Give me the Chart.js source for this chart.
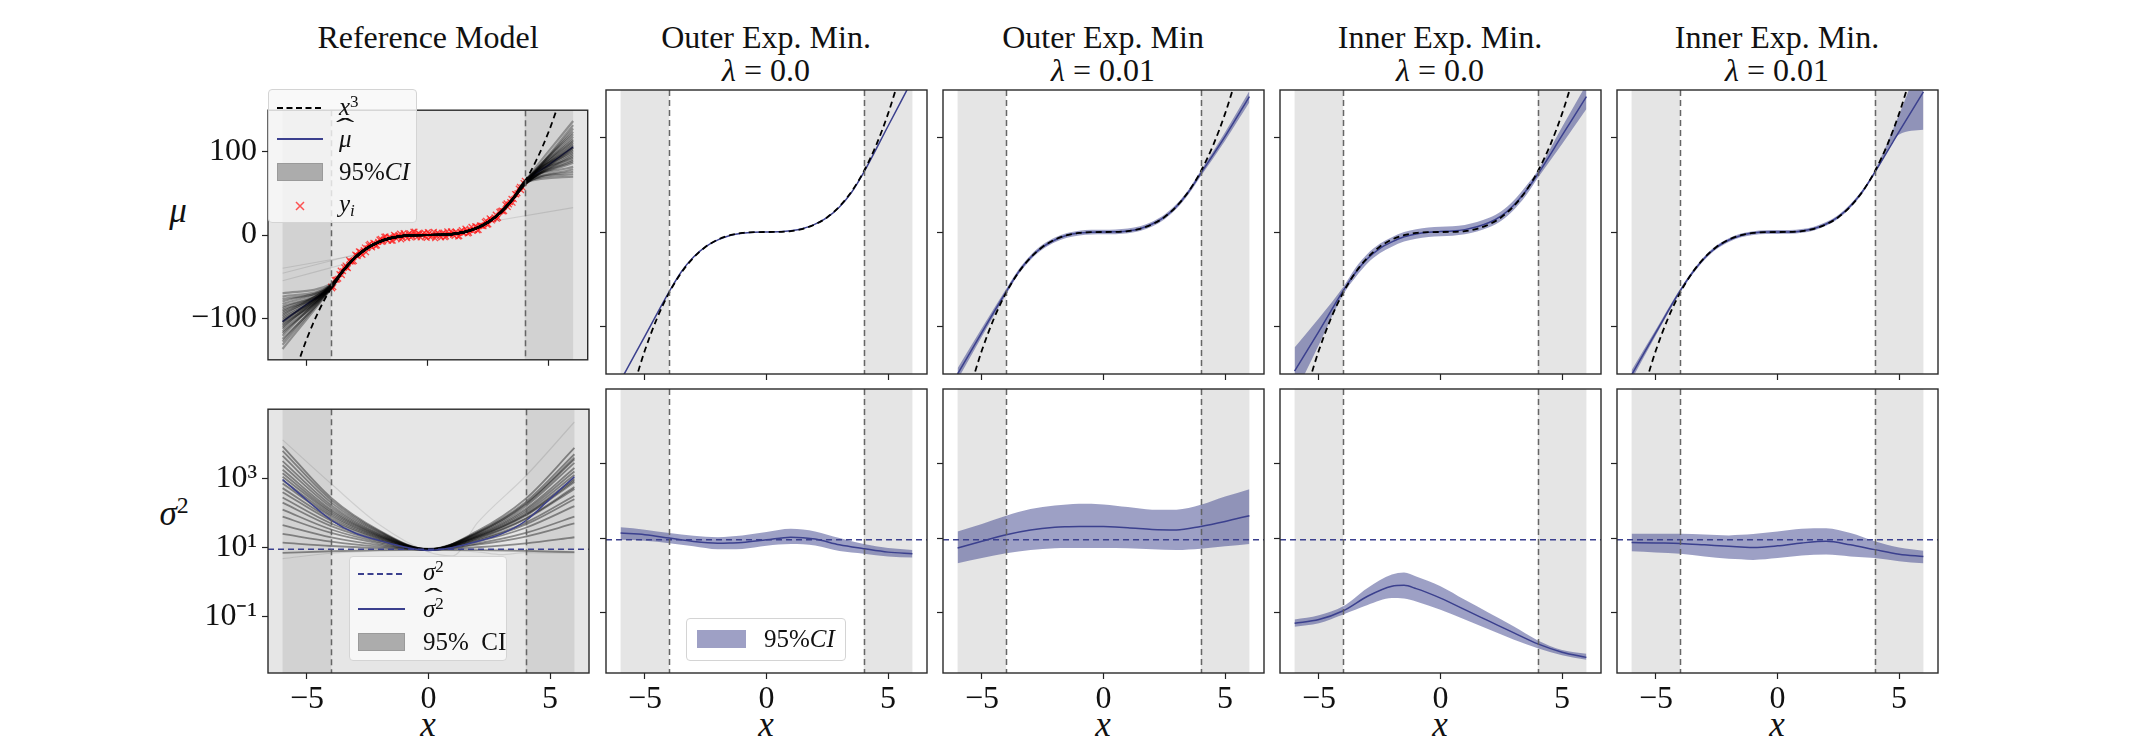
<!DOCTYPE html>
<html>
<head>
<meta charset="utf-8">
<title>mu / sigma panels</title>
<script src="https://cdn.jsdelivr.net/npm/chart.js@4.4.1/dist/chart.umd.min.js"></script>
<style>
  body { margin: 0; width: 2152px; height: 754px; background: #fff; position: relative; overflow: hidden;
         font-family: "Liberation Serif", "DejaVu Serif", serif; color: #111; }
  canvas { position: absolute; }
  .title { position: absolute; width: 400px; margin-left: -200px; text-align: center; font-size: 32px; line-height: 33px; }
  .lab { position: absolute; font-size: 35px; line-height: 34px; font-style: italic; width: 80px; margin-left: -40px; text-align: center; }
  .lg { position: absolute; border: 1px solid #d4d4d4; border-radius: 4px; box-sizing: border-box; }
  .lg svg, .lg span { position: absolute; }
  .lg span { font-size: 25px; line-height: 26px; white-space: nowrap; }
  sup { font-size: 0.68em; position: relative; top: -0.5em; vertical-align: baseline; }
  sub { font-size: 0.68em; position: relative; top: 0.25em; vertical-align: baseline; }
  .hat { position: relative; display: inline-block; }
  .hat::after { content: "\02C6"; position: absolute; left: 0; right: 0; top: -0.45em; text-align: center;
                font-style: normal; transform: scaleX(2.2); }
</style>
</head>
<body>

<!-- column titles -->
<div class="title" style="left:428px;top:21px">Reference Model</div>
<div class="title" style="left:766px;top:21px">Outer Exp. Min.<br><i>λ</i> = 0.0</div>
<div class="title" style="left:1103px;top:21px">Outer Exp. Min<br><i>λ</i> = 0.01</div>
<div class="title" style="left:1440px;top:21px">Inner Exp. Min.<br><i>λ</i> = 0.0</div>
<div class="title" style="left:1777px;top:21px">Inner Exp. Min.<br><i>λ</i> = 0.01</div>

<!-- axis labels -->
<div class="lab" style="left:178px;top:194px">μ</div>
<div class="lab" style="left:174px;top:497px">σ<sup style="font-style:normal">2</sup></div>
<div class="lab" style="left:428px;top:708px">x</div>
<div class="lab" style="left:766px;top:708px">x</div>
<div class="lab" style="left:1103px;top:708px">x</div>
<div class="lab" style="left:1440px;top:708px">x</div>
<div class="lab" style="left:1777px;top:708px">x</div>

<script>
// ---- axes ----
const xRange = [-6.6, 6.6];
const muRange = [-150, 150];
const sigmaRange = [0.0024, 100000];
const xTicks = [-5, 0, 5];
const xTickLabels = ['\u22125', '0', '5'];
const muTicks = [-100, 0, 100];
const muTickLabels = ['\u2212100', '0', '100'];
const sigmaTicks = [0.1, 10, 1000];
const sigmaTickLabels = ['10\u207B\u00B9', '10\u00B9', '10\u00B3'];
const spanRanges = [[-6, -4], [4, 6]];
const boundaryX = [-4, 4];
const sigmaTrue = 9;

// ---- true function x^3 ----
const cubeX = [-5.4, -5, -4.5, -4, -3.5, -3, -2.5, -2, -1.5, -1, -0.5, 0, 0.5, 1, 1.5, 2, 2.5, 3, 3.5, 4, 4.5, 5, 5.4];
const cubeY = [-157.5, -125, -91.1, -64, -42.9, -27, -15.6, -8, -3.4, -1, -0.1, 0, 0.1, 1, 3.4, 8, 15.6, 27, 42.9, 64, 91.1, 125, 157.5];

// ---- observations y_i ----
const obsXa = [-4.0, -3.9, -3.8, -3.7, -3.6, -3.5, -3.4, -3.3, -3.2, -3.1, -3.0, -2.9, -2.8, -2.7, -2.6, -2.5, -2.4, -2.3, -2.2, -2.1,
  -2.0, -1.9, -1.8, -1.7, -1.6, -1.5, -1.4, -1.3, -1.2, -1.1, -1.0, -0.9, -0.8, -0.7, -0.6, -0.5, -0.4, -0.3, -0.2, -0.1,
  0.0, 0.1, 0.2, 0.3, 0.4, 0.5, 0.6, 0.7, 0.8, 0.9, 1.0, 1.1, 1.2, 1.3, 1.4, 1.5, 1.6, 1.7, 1.8, 1.9,
  2.0, 2.1, 2.2, 2.3, 2.4, 2.5, 2.6, 2.7, 2.8, 2.9, 3.0, 3.1, 3.2, 3.3, 3.4, 3.5, 3.6, 3.7, 3.8, 3.9, 4.0];
const obsYa = [-61.9, -62.7, -53.7, -52.5, -42.7, -43.5, -36.6, -39.8, -32.0, -32.0, -23.5, -25.5, -20.1, -24.0, -15.0, -15.9, -10.7, -14.9, -10.2, -12.5,
  -5.6, -8.4, -2.0, -5.8, -2.7, -7.0, 0.2, -4.3, -1.0, -5.4, 2.3, -1.9, 1.1, -3.1, 4.0, -0.5, 2.1, -3.0, 1.0, -1.9,
  3.6, -2.5, 0.4, -4.0, 2.9, -1.2, 1.9, -2.8, 4.4, 0.5, 3.0, -1.3, 2.6, -1.5, 5.9, 2.4, 5.6, 2.5, 9.9, 6.2,
  10.3, 6.0, 11.3, 10.5, 17.2, 12.7, 18.7, 18.9, 24.5, 20.6, 28.8, 28.4, 36.5, 33.6, 39.5, 38.7, 49.3, 50.2, 57.9, 57.3, 65.3];
const obsXb = [-3.95, -3.85, -3.75, -3.65, -3.55, -3.45, -3.35, -3.25, -3.15, -3.05, -2.95, -2.85, -2.75, -2.65, -2.55, -2.45, -2.35, -2.25, -2.15, -2.05,
  -1.95, -1.85, -1.75, -1.65, -1.55, -1.45, -1.35, -1.25, -1.15, -1.05, -0.95, -0.85, -0.75, -0.65, -0.55, -0.45, -0.35, -0.25, -0.15, -0.05,
  0.05, 0.15, 0.25, 0.35, 0.45, 0.55, 0.65, 0.75, 0.85, 0.95, 1.05, 1.15, 1.25, 1.35, 1.45, 1.55, 1.65, 1.75, 1.85, 1.95,
  2.05, 2.15, 2.25, 2.35, 2.45, 2.55, 2.65, 2.75, 2.85, 2.95, 3.05, 3.15, 3.25, 3.35, 3.45, 3.55, 3.65, 3.75, 3.85, 3.95];
const obsYb = [-64.2, -54.0, -53.5, -46.9, -48.2, -38.9, -39.0, -30.2, -31.6, -31.3, -24.5, -19.6, -22.7, -18.0, -20.8, -12.0, -13.9, -9.5, -13.2, -8.3,
  -4.6, -7.9, -1.5, -6.9, -2.8, -6.9, -1.0, -2.6, 1.8, -3.3, -0.1, -4.0, 2.1, -1.4, 4.1, -2.8, 1.4, -0.2, 3.0, -3.6,
  2.0, -1.7, 3.8, -0.5, 1.4, -2.9, 2.9, -1.8, 0.7, 4.4, 0.2, 3.8, -1.9, 4.1, 2.4, 7.7, 1.7, 6.1, 4.8, 10.6,
  5.6, 11.7, 11.0, 15.9, 12.4, 20.0, 17.4, 21.3, 19.5, 27.8, 29.5, 28.7, 38.0, 36.7, 43.5, 42.9, 48.8, 55.8, 53.9, 62.6];

// ---- reference ensemble, mean ----
const muFanLeft = [-137, -132, -128, -125, -121, -118, -116, -113, -111, -109, -107, -105, -104, -102, -100, -98, -96, -94, -92, -90, -88, -86, -83, -80, -77, -74, -70];
const muFanLeftJoin = [-64, -63, -62, -65, -61, -63, -64, -62, -60, -63, -65, -62, -61, -64, -63, -62, -60, -63, -61, -64, -62, -63, -61, -60, -62, -61, -59];
const muFanRightJoin = [62, 64, 63, 61, 65, 62, 63, 64, 61, 62, 63, 65, 62, 64, 61, 63, 62, 60, 64, 63, 61, 62, 63, 60, 62, 61, 63];
const muFanRight = [118, 137, 99, 128, 93, 109, 124, 105, 132, 87, 113, 101, 107, 121, 95, 111, 76, 103, 115, 82, 97, 89, 70, 105, 91, 79, 73];
const muCoreX = [-3.5, -3, -2.5, -2, -1.5, -1, -0.5, 0, 0.5, 1, 1.5, 2, 2.5, 3, 3.5];
const muCoreY = [-42.9, -27, -15.6, -8, -3.4, -1, -0.1, 0, 0.1, 1, 3.4, 8, 15.6, 27, 42.9];
const muStray = [
  [[-6, -46], [-2.8, -22]],
  [[-6, -40], [-2.9, -24]],
  [[-6, -55], [-3.2, -33]],
  [[2.5, 15.6], [6, 33]]
];

const sigmaFanX = [-6, -4, -2, 0, 2, 4, 6];
const sigmaFan = [
  [8500, 275, 31, 8.9, 26.7, 188, 3980],
  [6300, 237, 29, 8.5, 30, 260, 7600],
  [4470, 200, 27.5, 9.1, 23.6, 133, 2000],
  [3160, 168, 25.7, 8.7, 27.9, 211, 5000],
  [2400, 146, 24.4, 9.3, 20, 84, 794],
  [1780, 126, 23, 8.8, 25, 158, 2820],
  [1410, 112, 22.2, 9.0, 21.8, 106, 1260],
  [1120, 100, 21.3, 8.6, 18.4, 67, 500],
  [890, 89, 20.4, 9.2, 26.2, 178, 3550],
  [710, 79, 19.6, 8.8, 17, 53, 316],
  [525, 68, 18.6, 9.0, 22.6, 119, 1580],
  [400, 60, 17.7, 8.7, 20.4, 89, 890],
  [282, 50, 16.6, 9.1, 15, 37.6, 158],
  [200, 42, 15.6, 8.9, 20.8, 94, 1000],
  [126, 33.5, 14.4, 8.8, 18.8, 71, 562],
  [79, 26.6, 13.2, 8.6, 12.2, 21, 50],
  [45, 20, 11.9, 8.9, 16.3, 47, 251],
  [25, 15, 10.7, 8.8, 10.3, 13.3, 20],
  [14, 11.2, 9.7, 8.9, 13.2, 26.6, 79],
  [7.1, 7.9, 8.5, 8.7, 8.5, 8.1, 7.4]
];
const sigmaStray = [
  [[-6, 13000], [-4, 700], [-2, 45], [0, 7.5], [1, 5.8], [2, 51], [4, 1175], [6, 42700]],
  [[-6, 4.8], [-4, 6.9], [-2, 8.0], [0, 8.5], [2, 7.6], [3, 6.3], [4, 7.2], [6, 6.9]]
];

// ---- mean predictions (mu), on gridX ----
const gridX = [-6, -5, -4, -3.5, -3, -2.5, -2, -1.5, -1, -0.5, 0, 0.5, 1, 1.5, 2, 2.5, 3, 3.5, 4, 5, 6];
const refMu = [-104, -83, -62, -43, -27, -15.6, -8, -3.4, -1, -0.1, 0, 0.1, 1, 3.4, 8, 15.6, 27, 43, 63, 84.5, 106];
const outerMu0 = [-157, -110, -63, -42, -26.5, -15.5, -8.3, -3.6, -1.2, -0.2, 0, 0.2, 1.2, 3.6, 8.3, 15.5, 26.5, 42, 63, 112, 161];
const outerMu1 = [-150, -106, -63, -42.5, -27, -15.8, -8.4, -3.5, -1.1, -0.2, 0, 0.2, 1.1, 3.5, 8.4, 15.8, 27, 42.5, 62, 101, 143];
const outerMu1Up = [-144, -101.5, -60, -40, -24.5, -13.3, -5.9, -1, 1.4, 2.3, 2.5, 2.7, 3.6, 6, 10.9, 18.3, 29.5, 45, 65, 105.5, 149];
const outerMu1Lo = [-156, -110.5, -66, -45, -29.5, -18.3, -10.9, -6, -3.6, -2.7, -2.5, -2.3, -1.4, 1, 5.9, 13.3, 24.5, 40, 59, 96.5, 137];
const innerMu0 = [-147, -105, -62, -43, -28, -17.5, -10.5, -5, -2, -0.3, 0.5, 1, 2.5, 5.5, 10, 17, 28, 43, 61, 102, 143];
const innerMu0Up = [-122, -91, -58, -38, -23, -12.5, -5.5, 0, 3, 4.7, 5.5, 6, 7.5, 10.5, 15, 22, 33, 48, 65, 111, 156];
const innerMu0Lo = [-172, -119, -66, -48, -33, -22.5, -15.5, -10, -7, -5.3, -4.5, -4, -2.5, 0.5, 5, 12, 23, 38, 57, 93, 130];
const innerMu1 = [-151, -106, -62, -43, -27.5, -16, -8.5, -3.6, -1.1, -0.1, 0, 0.1, 1.1, 3.6, 8.5, 16, 27.5, 43, 63, 106, 148];
const innerMu1Up = [-146, -103, -60, -41, -25.5, -14, -6.5, -1.6, 0.9, 1.9, 2, 2.1, 3.1, 5.6, 10.5, 18, 29.5, 45, 65, 124, 190];
const innerMu1Lo = [-156, -109, -64, -45, -29.5, -18, -10.5, -5.6, -3.1, -2.1, -2, -1.9, -0.9, 1.6, 6.5, 14, 25.5, 41, 61, 103, 108];

// ---- variance predictions (sigma^2), on sigmaGridX ----
const sigmaGridX = [-6, -5, -4, -3, -2, -1.5, -1, 0, 1, 2, 3, 4, 5, 6];
const refSigma = [933, 235, 63, 26, 16, 12.8, 10.5, 8.3, 10.2, 15, 25, 60, 260, 1120];
const outerSig0 = [13.6, 12.3, 10, 8.1, 7.3, 7.4, 7.6, 9.0, 10.6, 9.4, 6.6, 5.2, 4.2, 3.8];
const outerSig0Up = [19.4, 16.8, 13.6, 11.5, 10.6, 11.1, 11.8, 14.5, 17.8, 15.1, 10, 6.9, 5.4, 4.8];
const outerSig0Lo = [9.0, 8.5, 7.3, 6.0, 5.0, 5.0, 5.1, 6.2, 6.9, 6.3, 4.5, 3.8, 3.2, 3.0];
const outerSig1 = [5.4, 8.2, 12.3, 16.5, 19.5, 20.2, 20.6, 20.3, 19, 17, 16.5, 20.6, 28, 40];
const outerSig1Up = [15, 24, 40, 60, 75, 80, 83, 80, 68, 58, 58, 78, 130, 205];
const outerSig1Lo = [2.1, 2.9, 3.9, 4.8, 5.3, 5.4, 5.4, 5.4, 5.3, 5.0, 4.8, 5.2, 6.0, 6.9];
const innerSig0 = [0.052, 0.065, 0.112, 0.275, 0.51, 0.54, 0.44, 0.245, 0.12, 0.059, 0.029, 0.0145, 0.0087, 0.0063];
const innerSig0Up = [0.065, 0.085, 0.148, 0.46, 1.05, 1.2, 0.93, 0.51, 0.22, 0.098, 0.043, 0.018, 0.010, 0.0079];
const innerSig0Lo = [0.042, 0.052, 0.089, 0.16, 0.245, 0.24, 0.2, 0.12, 0.065, 0.035, 0.019, 0.011, 0.0072, 0.0054];
const innerSig1 = [7.6, 7.4, 7.2, 6.6, 6.0, 5.8, 5.6, 6.2, 7.4, 8.2, 6.6, 4.9, 3.7, 3.2];
const innerSig1Up = [13, 13, 13, 12.4, 11.8, 12.2, 12.8, 15, 17.8, 18.5, 13.6, 8.2, 5.6, 4.6];
const innerSig1Lo = [4.4, 4.1, 3.8, 3.2, 2.8, 2.7, 2.6, 2.9, 3.4, 3.6, 3.2, 2.9, 2.4, 2.1];

// ---- layout & style ----
const panelLefts = [268, 606, 943, 1280, 1617];
const panelW = 321, panelH = 284;
const rowTops = [90, 389];
const BLUE = '#3b408e';
const CI_FILL = 'rgba(60,65,140,0.5)';
const FAN = 'rgba(0,0,0,0.32)';
const SIGMA_FAN = 'rgba(0,0,0,0.4)';
const STRAY = 'rgba(0,0,0,0.1)';
const tickFont = { family: 'Liberation Serif', size: 32 };
const tickMarks = { drawOnChartArea: false, drawTicks: true, tickLength: 6, tickWidth: 1.2, tickColor: '#222', color: '#222' };

const pts = (xs, ys) => xs.map((x, i) => ({ x, y: ys[i] }));
const pairs = arr => arr.map(([x, y]) => ({ x, y }));

function line(data, color, width, dash) {
  return { data, borderColor: color, borderWidth: width, borderDash: dash || [], pointRadius: 0,
           fill: false, cubicInterpolationMode: 'monotone' };
}
function band(xs, lo, up) {
  return [
    { data: pts(xs, lo), borderWidth: 0, borderColor: 'rgba(0,0,0,0)', pointRadius: 0, fill: false, cubicInterpolationMode: 'monotone' },
    { data: pts(xs, up), borderWidth: 0, borderColor: 'rgba(0,0,0,0)', pointRadius: 0, fill: '-1', backgroundColor: CI_FILL, cubicInterpolationMode: 'monotone' }
  ];
}
function marks(xs, ys) {
  return { data: pts(xs, ys), showLine: false, pointStyle: 'crossRot', pointRadius: 4,
           pointBorderColor: 'rgba(255,20,20,0.75)', pointBorderWidth: 1.3 };
}
const cubeLine = () => line(pts(cubeX, cubeY), '#000', 1.8, [6, 4]);
const trueSigmaLine = () => line([{ x: xRange[0], y: sigmaTrue }, { x: xRange[1], y: sigmaTrue }], BLUE, 1.5, [6, 4]);

// shaded regions, boundaries and frame
const decor = {
  id: 'decor',
  beforeDatasetsDraw(chart, args, opts) {
    const { ctx, chartArea: a, scales: { x } } = chart;
    ctx.save();
    if (opts.refPanel) {
      ctx.fillStyle = '#e6e6e6';
      ctx.fillRect(a.left, a.top, a.width, a.height);
    }
    ctx.fillStyle = opts.refPanel ? '#d2d2d2' : '#e5e5e5';
    spanRanges.forEach(([l, r]) => {
      const x0 = x.getPixelForValue(l), x1 = x.getPixelForValue(r);
      ctx.fillRect(x0, a.top, x1 - x0, a.height);
    });
    ctx.restore();
  },
  afterDatasetsDraw(chart) {
    const { ctx, chartArea: a, scales: { x } } = chart;
    ctx.save();
    ctx.strokeStyle = 'rgba(95,95,95,0.95)';
    ctx.lineWidth = 1.5;
    ctx.setLineDash([6, 4]);
    boundaryX.forEach(v => {
      const px = Math.round(x.getPixelForValue(v)) + 0.5;
      ctx.beginPath(); ctx.moveTo(px, a.top); ctx.lineTo(px, a.bottom); ctx.stroke();
    });
    ctx.setLineDash([]);
    ctx.strokeStyle = '#2a2a2a';
    ctx.lineWidth = 1.4;
    ctx.strokeRect(a.left, a.top, a.width, a.height);
    ctx.restore();
  }
};

function addPanel(col, row, datasets, refPanel) {
  const padL = col === 0 ? 110 : 10, padB = row === 1 ? 52 : 10, padT = 4, padR = 4;
  const cv = document.createElement('canvas');
  cv.width = panelW + padL + padR;
  cv.height = panelH + padT + padB;
  cv.style.left = (panelLefts[col] - padL) + 'px';
  cv.style.top = (rowTops[row] - padT) + 'px';
  document.body.appendChild(cv);

  // first pushed = drawn first (underneath)
  datasets.forEach((d, i) => { d.order = datasets.length - i; d.clip = 0; });

  const log = row === 1;
  const yVals = log ? sigmaTicks : muTicks;
  const yLabels = log ? sigmaTickLabels : muTickLabels;

  new Chart(cv, {
    type: 'line',
    data: { datasets },
    options: {
      responsive: false,
      animation: false,
      events: [],
      layout: { padding: { left: 0, right: padR, top: padT, bottom: 0 } },
      plugins: { legend: { display: false }, tooltip: { enabled: false }, decor: { refPanel } },
      scales: {
        x: {
          type: 'linear', min: xRange[0], max: xRange[1],
          afterBuildTicks: s => { s.ticks = xTicks.map(v => ({ value: v })); },
          afterFit: s => { s.height = padB; },
          grid: tickMarks, border: { display: false },
          ticks: { display: row === 1, font: tickFont, color: '#111', padding: 1, maxRotation: 0,
                   callback: v => xTickLabels[xTicks.indexOf(v)] }
        },
        y: {
          type: log ? 'logarithmic' : 'linear',
          min: log ? sigmaRange[0] : muRange[0],
          max: log ? sigmaRange[1] : muRange[1],
          afterBuildTicks: s => { s.ticks = yVals.map(v => ({ value: v })); },
          afterFit: s => { s.width = padL; },
          grid: tickMarks, border: { display: false },
          ticks: { display: col === 0, font: tickFont, color: '#111', padding: 5,
                   callback: v => yLabels[yVals.indexOf(v)] }
        }
      }
    },
    plugins: [decor]
  });
}

// ---- top row: mu ----
const refTop = [marks(obsXa, obsYa), marks(obsXb, obsYb), line(pts(gridX, refMu), BLUE, 1.5)];
muStray.forEach(s => refTop.push(line(pairs(s), STRAY, 1.2)));
muFanLeft.forEach((l, i) => {
  const data = [{ x: -6, y: l }, { x: -4, y: muFanLeftJoin[i] }, ...pts(muCoreX, muCoreY),
                { x: 4, y: muFanRightJoin[i] }, { x: 6, y: muFanRight[i] }];
  refTop.push(line(data, FAN, 2.2));
});
refTop.push(cubeLine());
addPanel(0, 0, refTop, true);

addPanel(1, 0, [line(pts(gridX, outerMu0), BLUE, 1.5), cubeLine()], false);
addPanel(2, 0, [...band(gridX, outerMu1Lo, outerMu1Up), line(pts(gridX, outerMu1), BLUE, 1.5), cubeLine()], false);
addPanel(3, 0, [...band(gridX, innerMu0Lo, innerMu0Up), line(pts(gridX, innerMu0), BLUE, 1.5), cubeLine()], false);
addPanel(4, 0, [...band(gridX, innerMu1Lo, innerMu1Up), line(pts(gridX, innerMu1), BLUE, 1.5), cubeLine()], false);

// ---- bottom row: sigma^2 ----
const refBottom = [];
sigmaStray.forEach(s => refBottom.push(line(pairs(s), STRAY, 1.2)));
sigmaFan.forEach(m => refBottom.push(line(pts(sigmaFanX, m), SIGMA_FAN, 1.8)));
refBottom.push(line(pts(sigmaGridX, refSigma), BLUE, 1.5), trueSigmaLine());
addPanel(0, 1, refBottom, true);

addPanel(1, 1, [...band(sigmaGridX, outerSig0Lo, outerSig0Up), line(pts(sigmaGridX, outerSig0), BLUE, 1.5), trueSigmaLine()], false);
addPanel(2, 1, [...band(sigmaGridX, outerSig1Lo, outerSig1Up), line(pts(sigmaGridX, outerSig1), BLUE, 1.5), trueSigmaLine()], false);
addPanel(3, 1, [...band(sigmaGridX, innerSig0Lo, innerSig0Up), line(pts(sigmaGridX, innerSig0), BLUE, 1.5), trueSigmaLine()], false);
addPanel(4, 1, [...band(sigmaGridX, innerSig1Lo, innerSig1Up), line(pts(sigmaGridX, innerSig1), BLUE, 1.5), trueSigmaLine()], false);
</script>

<!-- legends (on top of the canvases) -->
<div class="lg" style="left:268px;top:89px;width:149px;height:134px;background:rgba(248,248,248,0.82)">
  <svg width="46" height="10" style="left:8px;top:13px"><line x1="0" y1="5" x2="46" y2="5" stroke="#000" stroke-width="2" stroke-dasharray="6,3.5"/></svg>
  <span style="left:70px;top:4px"><i>x</i><sup>3</sup></span>
  <svg width="46" height="10" style="left:8px;top:44px"><line x1="0" y1="5" x2="46" y2="5" stroke="#3b408e" stroke-width="1.8"/></svg>
  <span style="left:70px;top:36px"><i class="hat">μ</i></span>
  <svg width="46" height="18" style="left:8px;top:73px"><rect x="0.5" y="0.5" width="45" height="17" fill="#acacac" stroke="#9a9a9a"/></svg>
  <span style="left:70px;top:69px">95%<i>CI</i></span>
  <svg width="10" height="10" style="left:26px;top:111px"><path d="M1,1L9,9M9,1L1,9" stroke="rgba(255,40,40,0.8)" stroke-width="1.5"/></svg>
  <span style="left:70px;top:101px"><i>y<sub>i</sub></i></span>
</div>

<div class="lg" style="left:349px;top:556px;width:158px;height:105px;background:rgba(248,248,248,0.9)">
  <svg width="47" height="10" style="left:8px;top:12px"><line x1="0" y1="5" x2="47" y2="5" stroke="#3b408e" stroke-width="1.8" stroke-dasharray="6,3.5"/></svg>
  <span style="left:73px;top:2px"><i>σ</i><sup>2</sup></span>
  <svg width="47" height="10" style="left:8px;top:47px"><line x1="0" y1="5" x2="47" y2="5" stroke="#3b408e" stroke-width="1.8"/></svg>
  <span style="left:73px;top:39px"><span class="hat" style="position:relative"><i>σ</i><sup>2</sup></span></span>
  <svg width="47" height="18" style="left:8px;top:76px"><rect x="0.5" y="0.5" width="46" height="17" fill="#acacac" stroke="#9a9a9a"/></svg>
  <span style="left:73px;top:72px">95%&nbsp;&nbsp;CI</span>
</div>

<div class="lg" style="left:686px;top:618px;width:160px;height:43px;background:rgba(255,255,255,0.85)">
  <svg width="49" height="18" style="left:10px;top:11px"><rect x="0" y="0" width="49" height="18" fill="#9ea0c5"/></svg>
  <span style="left:77px;top:7px">95%<i>CI</i></span>
</div>

</body>
</html>
